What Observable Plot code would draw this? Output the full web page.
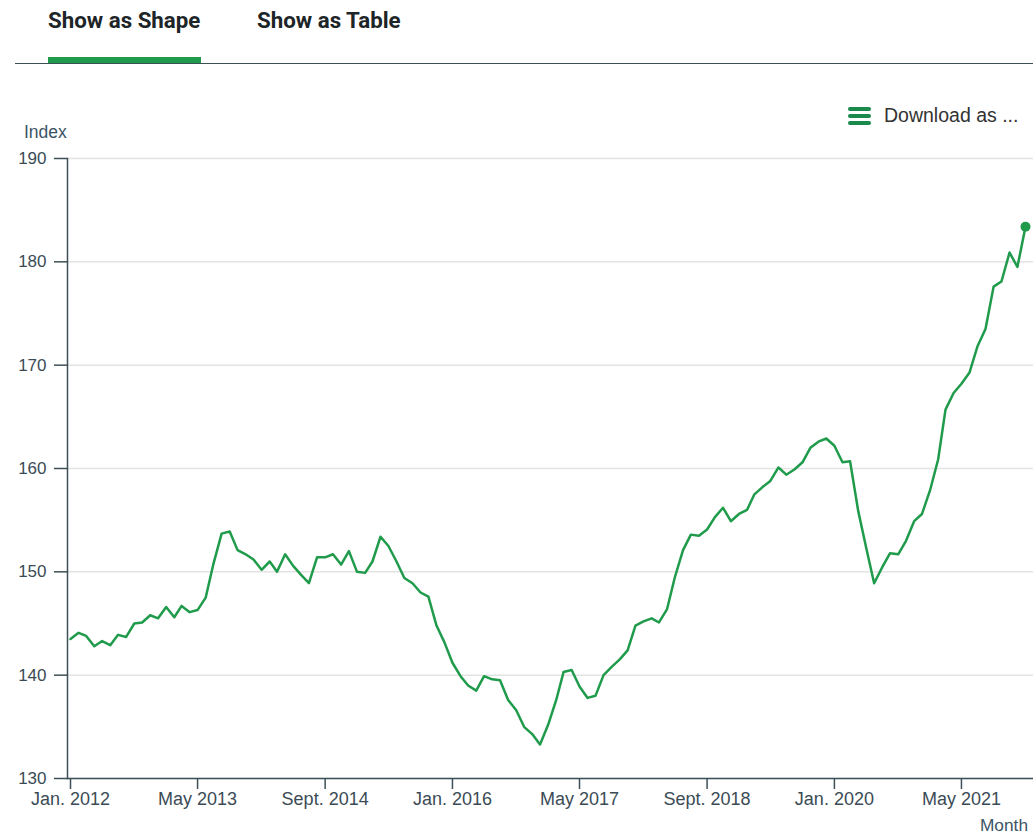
<!DOCTYPE html>
<html>
<head>
<meta charset="utf-8">
<script src="https://cdn.jsdelivr.net/npm/d3@7"></script>
<script src="https://cdn.jsdelivr.net/npm/@observablehq/plot@0.6"></script>
<style>
  html, body { margin: 0; padding: 0; background: #fff; }
  body { width: 1033px; height: 835px; position: relative; overflow: hidden; font-family: "Liberation Sans", Arial, sans-serif; }
  .tab { position: absolute; top: 7px; font-family: Roboto, "Liberation Sans", sans-serif; font-weight: 700; font-size: 22.3px; color: #1d2528; }
  #tab1 { left: 48px; }
  #tab2 { left: 257px; }
  #tabbar { position: absolute; left: 48px; top: 57px; width: 153px; height: 6px; background: #1f9b4b; }
  #tabline { position: absolute; left: 15px; top: 63px; width: 1018px; height: 1px; background: #3d4f57; }
  #download { position: absolute; left: 848px; top: 104px; font-size: 19.5px; color: #333; display: flex; align-items: center; }
  #download .icon { width: 23px; height: 18px; margin-right: 13px; display: flex; flex-direction: column; justify-content: space-between; }
  #download .icon span { display: block; height: 4px; border-radius: 2px; background: #1a8a4c; }
  #ylabel { position: absolute; left: 24px; top: 122px; font-size: 17.5px; color: #3c5566; }
  #xlabel { position: absolute; right: 5px; top: 815px; font-size: 17.3px; color: #3c5566; }
  #chart { position: absolute; left: 0; top: 100px; }
</style>
</head>
<body>
<div class="tab" id="tab1">Show as Shape</div>
<div class="tab" id="tab2">Show as Table</div>
<div id="tabbar"></div>
<div id="tabline"></div>
<div id="download"><div class="icon"><span></span><span></span><span></span></div>Download as ...</div>
<div id="ylabel">Index</div>
<div id="chart"></div>
<div id="xlabel">Month</div>
<script>
// First and last month of the series (monthly)
const firstMonth = "2012-01-01";
const lastMonth = "2022-01-01";

// Index values, Jan. 2012 – Jan. 2022
const values = [
  143.5, 144.1, 143.8, 142.8, 143.3, 142.9, 143.9, 143.7, 145.0, 145.1, 145.8, 145.5, // 2012
  146.6, 145.6, 146.7, 146.1, 146.3, 147.5, 150.8, 153.7, 153.9, 152.1, 151.7, 151.2, // 2013
  150.2, 151.0, 150.0, 151.7, 150.6, 149.7, 148.9, 151.4, 151.4, 151.7, 150.7, 152.0, // 2014
  150.0, 149.9, 151.0, 153.4, 152.5, 151.0, 149.4, 148.9, 148.0, 147.6, 144.8, 143.2, // 2015
  141.2, 139.9, 139.0, 138.5, 139.9, 139.6, 139.5, 137.6, 136.6, 135.0, 134.3, 133.3, // 2016
  135.2, 137.6, 140.3, 140.5, 138.9, 137.8, 138.0, 140.0, 140.8, 141.5, 142.4, 144.8, // 2017
  145.2, 145.5, 145.1, 146.4, 149.5, 152.1, 153.6, 153.5, 154.1, 155.3, 156.2, 154.9, // 2018
  155.6, 156.0, 157.5, 158.2, 158.8, 160.1, 159.4, 159.9, 160.6, 162.0, 162.6, 162.9, // 2019
  162.2, 160.6, 160.7, 155.9, 152.4, 148.9, 150.4, 151.8, 151.7, 153.0, 154.9, 155.6, // 2020
  157.9, 160.9, 165.7, 167.3, 168.2, 169.3, 171.8, 173.5, 177.6, 178.1, 180.9, 179.5, // 2021
  183.4                                                                              // 2022
];

// Axis ticks
const xTickDates = ["2012-01-01", "2013-05-01", "2014-09-01", "2016-01-01", "2017-05-01", "2018-09-01", "2020-01-01", "2021-05-01"];
const xTickLabels = ["Jan. 2012", "May 2013", "Sept. 2014", "Jan. 2016", "May 2017", "Sept. 2018", "Jan. 2020", "May 2021"];
const yTicks = [130, 140, 150, 160, 170, 180, 190];

const months = d3.utcMonth.range(new Date(firstMonth), d3.utcMonth.offset(new Date(lastMonth), 1));
const data = months.map((date, i) => ({date, value: values[i]}));
const tickDates = xTickDates.map(s => new Date(s));
const labelOf = new Map(tickDates.map((d, i) => [+d, xTickLabels[i]]));
const last = data[data.length - 1];

const chart = Plot.plot({
  width: 1033,
  height: 735,
  marginTop: 58,
  marginBottom: 57,
  marginLeft: 67,
  marginRight: 0,
  style: {fontFamily: "'Liberation Sans', Arial, sans-serif", fontSize: "16px", color: "#3b4b55", background: "transparent"},
  x: {type: "utc", domain: [months[0], months[months.length - 1]], insetLeft: 3, insetRight: 8},
  y: {domain: [130, 190]},
  marks: [
    Plot.gridY(yTicks, {stroke: "#e3e3e3", strokeOpacity: 1, strokeWidth: 1.5}),
    Plot.axisY(yTicks, {tickSize: 13, tickPadding: 8, stroke: "#3d4f57", strokeWidth: 1.5, fill: "#3b4b55", fontSize: 17, label: null}),
    Plot.axisX(tickDates, {tickSize: 11, tickPadding: 3, stroke: "#3d4f57", strokeWidth: 1.5, fill: "#3b4b55", fontSize: 18, label: null, tickFormat: d => labelOf.get(+d)}),
    Plot.frame({anchor: "left", stroke: "#3d4f57", strokeWidth: 1.5}),
    Plot.frame({anchor: "bottom", stroke: "#3d4f57", strokeWidth: 1.5}),
    Plot.lineY(data, {x: "date", y: "value", stroke: "#1f9b4b", strokeWidth: 2.5}),
    Plot.dot([last], {x: "date", y: "value", r: 5, fill: "#1f9b4b"})
  ]
});
document.getElementById("chart").appendChild(chart);
</script>
</body>
</html>
